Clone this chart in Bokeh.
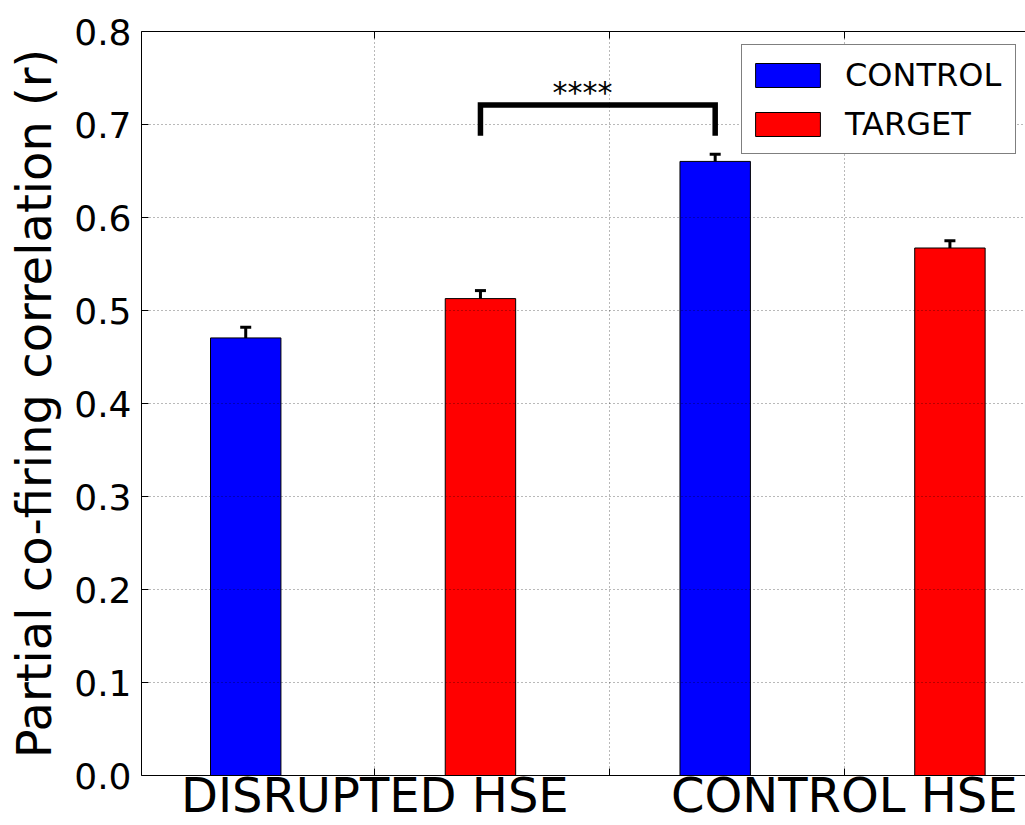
import numpy as np
from bokeh.plotting import figure
from bokeh.models import (ColumnDataSource, FixedTicker, NumeralTickFormatter, LinearAxis,
                          Range1d, Whisker, TeeHead, Label, Legend, LegendItem)
from bokeh.embed import file_html
from bokeh.resources import INLINE

# Partial co-firing correlation per HSE type and cell group
groups = ["DISRUPTED HSE", "DISRUPTED HSE", "CONTROL HSE", "CONTROL HSE"]
conditions = ["CONTROL", "TARGET", "CONTROL", "TARGET"]
means = [0.4705, 0.5128, 0.6603, 0.5672]
sems = [0.0115, 0.0086, 0.0077, 0.0079]

tick_labels = ["DISRUPTED HSE", "CONTROL HSE"]
y_ticks = [0.0, 0.1, 0.2, 0.3, 0.4, 0.5, 0.6, 0.7, 0.8]

significance = "****"

FONT = "DejaVu Sans"
BAR_W = 0.3
COLORS = {"CONTROL": "#0000ff", "TARGET": "#ff0000"}

idx = np.arange(len(means))
x_centers = idx + BAR_W / 2
grid_x = [float(v) for v in np.arange(3) + 0.7]      # dotted vertical grid positions
label_x = [grid_x[0], grid_x[2]]                      # labelled group ticks
mid_x = [grid_x[1]]

p = figure(width=1025, height=825, output_backend="svg", toolbar_location=None,
           x_range=Range1d(-0.294, 3.472), y_range=Range1d(0, 0.8),
           min_border_left=141, min_border_top=31, min_border_right=0,
           min_border_bottom=40, background_fill_color="white",
           border_fill_color="white")
p.outline_line_color = None

renderers = {}
for cond in ["CONTROL", "TARGET"]:
    sel = [i for i, c in enumerate(conditions) if c == cond]
    src = ColumnDataSource(dict(x=[x_centers[i] for i in sel],
                                top=[means[i] for i in sel]))
    renderers[cond] = p.vbar(x="x", top="top", width=BAR_W, bottom=0, source=src,
                             fill_color=COLORS[cond], line_color="black", line_width=1)

# error bars
err_src = ColumnDataSource(dict(x=list(x_centers),
                                lo=[m - s for m, s in zip(means, sems)],
                                hi=[m + s for m, s in zip(means, sems)]))
whisk = Whisker(base="x", lower="lo", upper="hi", source=err_src, dimension="height",
                line_color="black", line_width=3,
                upper_head=TeeHead(size=11, line_color="black", line_width=3),
                lower_head=TeeHead(size=11, line_color="black", line_width=3))
p.add_layout(whisk)

# significance bracket between disrupted TARGET and control CONTROL
SIG_TOP = 0.721
SIG_LOW = 0.688
xa, xb = x_centers[1], x_centers[2]
p.line(x=[xa, xa, xb, xb], y=[SIG_LOW, SIG_TOP, SIG_TOP, SIG_LOW], line_color="black",
       line_width=5.5, line_join="miter")
p.add_layout(Label(x=1.585, y=SIG_TOP, text=significance, text_align="center",
                   text_baseline="alphabetic", text_font=FONT,
                   text_font_size="30px", text_color="black", y_offset=12))

# axes
xaxis = p.xaxis[0]
xaxis.ticker = FixedTicker(ticks=label_x, minor_ticks=mid_x)
xaxis.major_label_overrides = {t: l for t, l in zip(label_x, tick_labels)}
xaxis.major_label_text_font = FONT
xaxis.major_label_text_font_size = "48px"
xaxis.major_label_text_color = "black"
xaxis.major_label_standoff = -9
xaxis.major_tick_in = 7
xaxis.major_tick_out = 0
xaxis.minor_tick_in = 7
xaxis.minor_tick_out = 0
xaxis.axis_line_color = "black"

yaxis = p.yaxis[0]
yaxis.ticker = FixedTicker(ticks=y_ticks)
yaxis.formatter = NumeralTickFormatter(format="0.0")
yaxis.major_label_text_font = FONT
yaxis.major_label_text_font_size = "36px"
yaxis.major_label_text_color = "black"
yaxis.major_label_standoff = 10
yaxis.major_tick_in = 7
yaxis.major_tick_out = 0
yaxis.minor_tick_line_color = None
yaxis.axis_line_color = "black"
yaxis.axis_label = "Partial co-firing correlation (r)"
yaxis.axis_label_text_font = FONT
yaxis.axis_label_text_font_size = "48px"
yaxis.axis_label_text_font_style = "normal"
yaxis.axis_label_text_color = "black"
yaxis.axis_label_standoff = 9

# top spine with inward ticks only
top_axis = LinearAxis(ticker=FixedTicker(ticks=[], minor_ticks=grid_x),
                      major_label_standoff=0, major_tick_in=0, major_tick_out=0,
                      minor_tick_in=7, minor_tick_out=0, axis_line_color="black")
p.add_layout(top_axis, "above")

for g in (p.xgrid[0], p.ygrid[0]):
    g.grid_line_color = "black"
    g.grid_line_alpha = 0.55
    g.grid_line_width = 1
    g.grid_line_dash = "1 3"
    g.level = "guide"
p.xgrid[0].ticker = FixedTicker(ticks=grid_x)
p.ygrid[0].ticker = FixedTicker(ticks=y_ticks)

legend = Legend(items=[LegendItem(label=c, renderers=[renderers[c]]) for c in ["CONTROL", "TARGET"]],
                location=(600, 621), orientation="vertical",
                label_text_font=FONT, label_text_font_size="32px", label_text_color="black",
                glyph_width=81, glyph_height=30, label_standoff=17,
                label_width=165, label_height=49,
                padding=5, spacing=0, margin=0,
                border_line_color="black", border_line_width=1.5,
                background_fill_color="white", background_fill_alpha=1)
p.add_layout(legend, "center")

open("out.html", "w").write(file_html(p, INLINE))
